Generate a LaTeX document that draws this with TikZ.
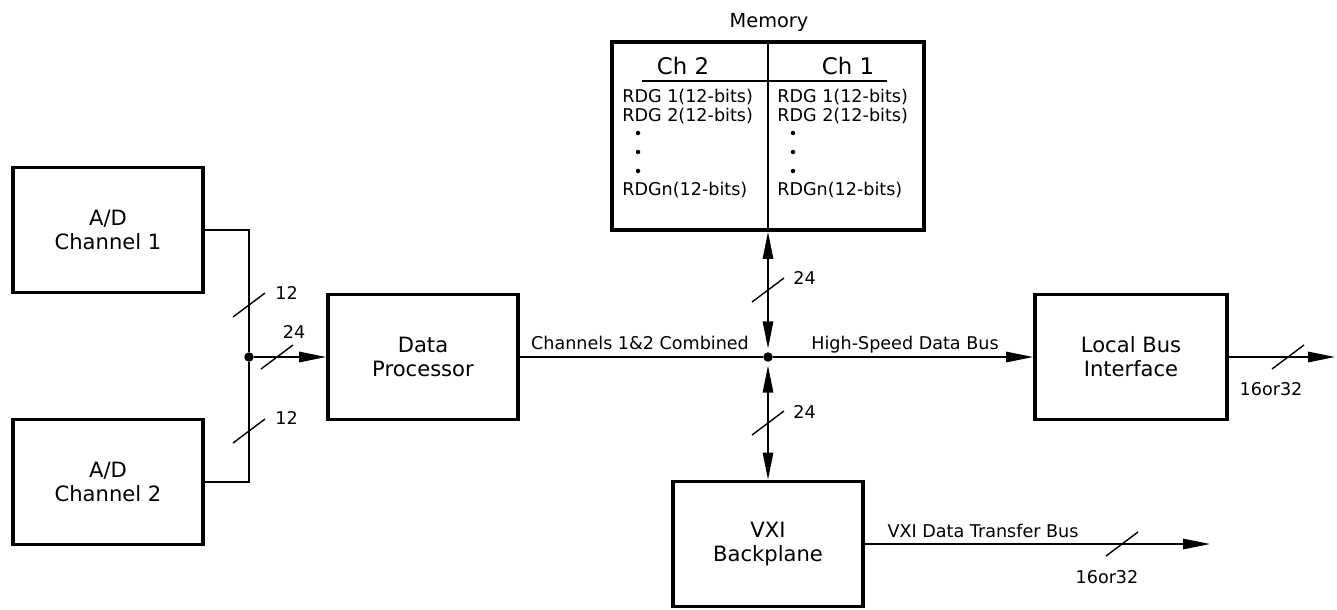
\documentclass[tikz,border=0pt]{standalone}
\usepackage{fontspec}
\setmainfont{DejaVu Sans}
\usetikzlibrary{calc,positioning,arrows.meta}

\begin{document}
\begin{tikzpicture}[x=0.02cm,y=-0.02cm,
    font=\fontsize{10}{12}\selectfont,
    block/.style={draw,rectangle,line width=2.2pt,minimum width=3.8cm,minimum height=2.5cm,
      align=center,inner sep=0pt,font=\fontsize{12}{13.6}\selectfont},
    bus/.style={line width=0.8pt},
    tip/.style={-{Triangle[length=0.54cm,width=0.21cm]}},
    bothtips/.style={{Triangle[length=0.54cm,width=0.21cm]}-{Triangle[length=0.54cm,width=0.21cm]}},
    junction/.style={circle,fill,inner sep=0pt,minimum size=0.19cm},
    rdgdot/.style={circle,fill,inner sep=0pt,minimum size=0.09cm},
    lbl/.style={inner sep=0pt}]

  \useasboundingbox (0,0) rectangle (1337,609);

  % blocks
  \node [block] at (108,230) (adc_1) {A/D\\Channel 1};
  \node [block] at (108,482) (adc_2) {A/D\\Channel 2};
  \node [block] at (423,357) (proc) {Data\\Processor};
  \node [block,minimum width=6.24cm,minimum height=3.76cm] at (768,136) (mem) {};
  \node [block,minimum width=3.84cm] at (1131,357) (lbi) {Local Bus\\Interface};
  \node [block] at (768,544) (vxi) {VXI\\Backplane};

  % junctions and free ends
  \node [junction] at (249,357) (join_adc) {};
  \node [junction] at (768,357) (join_bus) {};
  \coordinate (lbi_out) at (1335,357);
  \coordinate (vxi_out) at (1210,544);

  % memory contents
  \node [lbl,anchor=base,font=\fontsize{11}{13}\selectfont] at (769,27) (mem_title) {Memory};
  \draw [bus] (mem.north) -- (mem.south);
  \node [lbl,anchor=base,font=\fontsize{13}{15}\selectfont] at (683,74) (ch_2) {Ch 2};
  \node [lbl,anchor=base,font=\fontsize{13}{15}\selectfont] at (848,74) (ch_1) {Ch 1};
  \coordinate (rule_l) at (642,81);
  \coordinate (rule_r) at (887,81);
  \draw [bus] (rule_l) -- (rule_r);
  \foreach \x/\c in {622/2, 777/1}{
    \node [lbl,anchor=base west] at (\x,102) (rdg_1_\c) {RDG 1(12-bits)};
    \node [lbl,anchor=base west] at (\x,121) (rdg_2_\c) {RDG 2(12-bits)};
    \node [lbl,anchor=base west] at (\x,195) (rdg_n_\c) {RDGn(12-bits)};
    \foreach \y in {133,152,171}
      \node [rdgdot] at ($(\x,\y)+(16,0)$) {};
  }

  % connectors
  \draw [bus] (adc_1.east) -| (join_adc) |- (adc_2.east);
  \draw [bus,tip] (join_adc) -- (proc.west);
  \draw [bus] (proc.east) -- (join_bus);
  \draw [bus,tip] (join_bus) -- (lbi.west);
  \draw [bus,tip] (lbi.east) -- (lbi_out);
  \draw [bus,bothtips,shorten >=0.07cm] (mem.south) -- (join_bus);
  \draw [bus,bothtips,shorten <=0.07cm] (join_bus) -- (vxi.north);
  \draw [bus,tip] (vxi.east) -- (vxi_out);

  % bus width marks
  \foreach \sx/\sy in {249/305, 249/431, 277/357, 768/290, 768/423, 1122/544, 1288/357}
    \draw [bus] (\sx,\sy) ++(-16,12) -- ++(32,-24);

  \node [lbl,anchor=base west] at (275,299) (w_adc_1) {12};
  \node [lbl,anchor=base west] at (275,424) (w_adc_2) {12};
  \node [lbl,anchor=base] at (294,338) (w_proc) {24};
  \node [lbl,anchor=base west] at (793,284) (w_mem) {24};
  \node [lbl,anchor=base west] at (793,418) (w_vxi) {24};
  \node [lbl,anchor=base] at (1107,583) (w_vxi_out) {16or32};
  \node [lbl,anchor=base] at (1271,395) (w_lbi_out) {16or32};

  % bus names
  \node [lbl,anchor=base] at (640,349) (combined) {Channels 1\&2 Combined};
  \node [lbl,anchor=base] at (905,349) (hs_bus) {High-Speed Data Bus};
  \node [lbl,anchor=base] at (983,537) (vxi_bus) {VXI Data Transfer Bus};
\end{tikzpicture}
\end{document}
